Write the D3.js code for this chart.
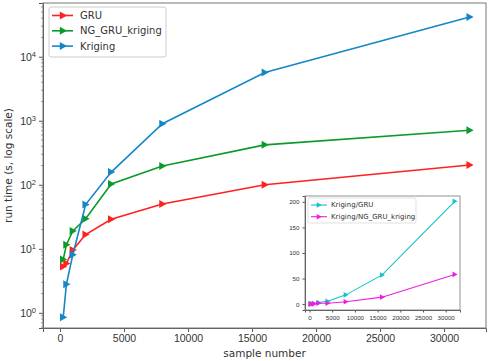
<!DOCTYPE html>
<html>
<head>
<meta charset="utf-8">
<script src="https://cdn.jsdelivr.net/npm/d3@7"></script>
<style>
  body { margin: 0; background: #fff; }
  svg { display: block; font-family: "DejaVu Sans", sans-serif; }
  .tick text { fill: #333; }
  .domain, .tick line { stroke: #555; }
</style>
</head>
<body>
<div id="chart"></div>
<script>
// ---- data ----
const SAMPLES = [250, 500, 1000, 2000, 4000, 8000, 16000, 32000];
const GRU     = [5.3, 5.9, 9.6, 16.7, 29, 50, 100, 204];
const NG_GRU  = [6.8, 11.6, 19, 29.5, 103, 196, 420, 710];
const KRIGING = [0.85, 2.8, 8.1, 49, 158, 900, 5650, 41600];

const RATIO_GRU = [0.2, 0.5, 0.9, 3, 5.5, 18, 57, 201];
const RATIO_NG  = [0.1, 0.25, 0.4, 1.7, 1.5, 4.6, 13.5, 58];

const X_TICKS = [0, 5000, 10000, 15000, 20000, 25000, 30000];
const Y_TICKS = [1, 10, 100, 1000, 10000];
const INSET_Y_TICKS = [0, 50, 100, 150, 200];

const MAIN_SERIES = [
  { name: "GRU", values: GRU, color: "#ff2020" },
  { name: "NG_GRU_kriging", values: NG_GRU, color: "#0c9a2a" },
  { name: "Kriging", values: KRIGING, color: "#1786c6" }
];
const INSET_SERIES = [
  { name: "Kriging/GRU", values: RATIO_GRU, color: "#14c4c4" },
  { name: "Kriging/NG_GRU_kriging", values: RATIO_NG, color: "#ee1ee0" }
];

const W = 491, H = 361;
const svg = d3.select("#chart").append("svg")
  .attr("width", W).attr("height", H);

// right-pointing triangle marker
function tri(sel, r, color) {
  sel.append("path")
    .attr("d", `M${-r * 0.8},${-r} L${r},0 L${-r * 0.8},${r} Z`)
    .attr("fill", color);
}

// ------------------------------
// Main axes
// ------------------------------
const L = 43, R = 486, T = 3, B = 328;

const x = d3.scaleLinear().domain([-1330, 33280]).range([L, R]);
const y = d3.scaleLog().domain([0.58, 69000]).range([B, T]);

const gx = svg.append("g")
  .attr("transform", `translate(0,${B})`)
  .call(d3.axisBottom(x).tickValues(X_TICKS).tickFormat(d3.format("d")).tickSizeOuter(0).tickSize(4));
gx.selectAll("text").attr("font-size", 10.5);

// minor ticks for the log axis
const minor = [];
for (let e = -1; e <= 4; e++) {
  for (let m = 2; m <= 9; m++) {
    const v = m * Math.pow(10, e);
    if (v > 0.58 && v < 69000) minor.push(v);
  }
}
svg.append("g").selectAll("line").data(minor).join("line")
  .attr("x1", L - 2).attr("x2", L)
  .attr("y1", d => y(d)).attr("y2", d => y(d))
  .attr("stroke", "#555").attr("stroke-width", 0.6);

const gy = svg.append("g")
  .attr("transform", `translate(${L},0)`)
  .call(d3.axisLeft(y).tickValues(Y_TICKS).tickFormat("").tickSizeOuter(0).tickSize(4));
gy.selectAll(".tick").each(function (d) {
  const t = d3.select(this).append("text")
    .attr("x", -7).attr("dy", "0.35em")
    .attr("text-anchor", "end").attr("fill", "#333").attr("font-size", 10.5);
  t.append("tspan").text("10");
  t.append("tspan").attr("dy", "-0.5em").attr("font-size", 7.5).text(Math.round(Math.log10(d)));
});

// frame
svg.append("rect")
  .attr("x", L).attr("y", T).attr("width", R - L).attr("height", B - T)
  .attr("fill", "none").attr("stroke", "#777").attr("stroke-width", 1);

svg.append("text")
  .attr("x", (L + R) / 2).attr("y", 357)
  .attr("text-anchor", "middle").attr("font-size", 10.5).attr("fill", "#333")
  .text("sample number");

svg.append("text")
  .attr("transform", `translate(12,${(T + B) / 2}) rotate(-90)`)
  .attr("text-anchor", "middle").attr("font-size", 10.5).attr("fill", "#333")
  .text("run time (s, log scale)");

const line = d3.line().x((d, i) => x(SAMPLES[i])).y(d => y(d));

MAIN_SERIES.forEach(s => {
  svg.append("path")
    .attr("d", line(s.values))
    .attr("fill", "none").attr("stroke", s.color).attr("stroke-width", 1.6);
  svg.append("g").selectAll("g").data(s.values).join("g")
    .attr("transform", (d, i) => `translate(${x(SAMPLES[i])},${y(d)})`)
    .each(function () { tri(d3.select(this), 4, s.color); });
});

// legend
const lg = svg.append("g");
lg.append("rect")
  .attr("x", 49).attr("y", 7).attr("width", 117).attr("height", 50)
  .attr("rx", 2).attr("fill", "#fff").attr("fill-opacity", 0.85)
  .attr("stroke", "#ccc");
MAIN_SERIES.forEach((s, i) => {
  const yy = 15.5 + i * 15.3;
  lg.append("line").attr("x1", 52).attr("x2", 73).attr("y1", yy).attr("y2", yy)
    .attr("stroke", s.color).attr("stroke-width", 1.6);
  tri(lg.append("g").attr("transform", `translate(63,${yy})`), 4, s.color);
  lg.append("text").attr("x", 80).attr("y", yy).attr("dy", "0.35em")
    .attr("font-size", 10).attr("fill", "#333").text(s.name);
});

// ------------------------------
// Inset axes
// ------------------------------
const iL = 305, iR = 460, iT = 196, iB = 310;
const ix = d3.scaleLinear().domain([-1000, 33150]).range([iL, iR]);
const iy = d3.scaleLinear().domain([-11.6, 211.4]).range([iB, iT]);

svg.append("rect")
  .attr("x", iL).attr("y", iT).attr("width", iR - iL).attr("height", iB - iT)
  .attr("fill", "#fff");

const igx = svg.append("g")
  .attr("transform", `translate(0,${iB})`)
  .call(d3.axisBottom(ix).tickValues(X_TICKS).tickFormat(d3.format("d")).tickSizeOuter(0).tickSize(2.5));
igx.selectAll("text").attr("font-size", 6.2);

const igy = svg.append("g")
  .attr("transform", `translate(${iL},0)`)
  .call(d3.axisLeft(iy).tickValues(INSET_Y_TICKS).tickSizeOuter(0).tickSize(2.5));
igy.selectAll("text").attr("font-size", 6.2);

svg.append("rect")
  .attr("x", iL).attr("y", iT).attr("width", iR - iL).attr("height", iB - iT)
  .attr("fill", "none").attr("stroke", "#777").attr("stroke-width", 0.8);

const iline = d3.line().x((d, i) => ix(SAMPLES[i])).y(d => iy(d));

INSET_SERIES.forEach(s => {
  svg.append("path")
    .attr("d", iline(s.values))
    .attr("fill", "none").attr("stroke", s.color).attr("stroke-width", 1.1);
  svg.append("g").selectAll("g").data(s.values).join("g")
    .attr("transform", (d, i) => `translate(${ix(SAMPLES[i])},${iy(d)})`)
    .each(function () { tri(d3.select(this), 2.8, s.color); });
});

const ilg = svg.append("g");
ilg.append("rect")
  .attr("x", 308).attr("y", 198).attr("width", 108).attr("height", 25)
  .attr("rx", 1.5).attr("fill", "#fff").attr("fill-opacity", 0.85)
  .attr("stroke", "#ccc").attr("stroke-width", 0.6);
INSET_SERIES.forEach((s, i) => {
  const yy = 205 + i * 11.7;
  ilg.append("line").attr("x1", 311).attr("x2", 327).attr("y1", yy).attr("y2", yy)
    .attr("stroke", s.color).attr("stroke-width", 1.1);
  tri(ilg.append("g").attr("transform", `translate(319,${yy})`), 2.8, s.color);
  ilg.append("text").attr("x", 331).attr("y", yy).attr("dy", "0.35em")
    .attr("font-size", 7).attr("fill", "#333").text(s.name);
});
</script>
</body>
</html>
